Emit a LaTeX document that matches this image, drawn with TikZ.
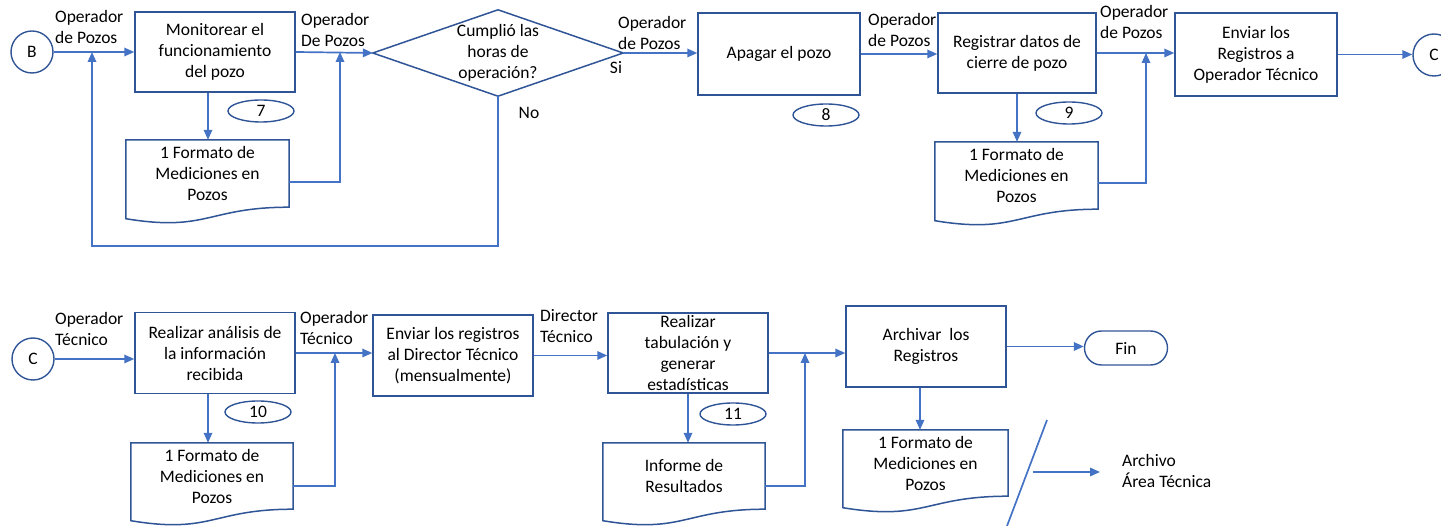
\documentclass[tikz,border=0pt]{standalone}
\usepackage{fontspec}
\setmainfont{Carlito}
\usetikzlibrary{arrows.meta,shapes.geometric,shapes.misc}
\definecolor{edge}{HTML}{2F5597}
\definecolor{flow}{HTML}{4472C4}
\begin{document}
\begin{tikzpicture}[x=1pt,y=-1pt,
  every node/.style={font=\fontsize{17.5}{21}\selectfont, inner sep=0pt},
  stepbox/.style={draw=edge, line width=1.5pt, align=center},
  docbox/.style={align=center},
  tag/.style={draw=edge, line width=1.4pt, ellipse, minimum width=66pt, minimum height=22pt},
  conn/.style={draw=edge, line width=1.4pt, circle, minimum size=42pt},
  lbl/.style={align=left, anchor=west},
  flowline/.style={draw=flow, line width=1.7pt},
  arr/.style={flowline, -{Triangle[length=10pt,width=8.5pt]}},
  docshape/.style={draw=edge, line width=1.5pt, fill=white}
]
\useasboundingbox (0,0) rectangle (1441,526);

% ---- upper row ----
\node[conn] (B) at (32,52) {B};
\node[stepbox, minimum width=160pt, minimum height=80pt] (mon) at (215,52) {Monitorear el\\funcionamiento\\del pozo};
\node[minimum width=250pt, minimum height=86pt, align=center] (dec) at (498,53) {Cumplió las\\horas de\\operación?};
\draw[edge, line width=1.5pt] (dec.west) -- (dec.north) -- (dec.east) -- (dec.south) -- cycle;
\node[stepbox, minimum width=162pt, minimum height=82pt] (apa) at (779,54) {Apagar el pozo};
\node[stepbox, minimum width=158pt, minimum height=80pt] (reg) at (1017,53) {Registrar datos de\\cierre de pozo};
\node[stepbox, minimum width=162pt, minimum height=83pt] (env) at (1256,54.5) {Enviar los\\Registros a\\Operador Técnico};
\node[conn] (C1) at (1434,55) {C};

\node[tag] (t7) at (261,111) {7};
\node[tag] (t8) at (826,115) {8};
\node[tag] (t9) at (1069,113) {9};

\node[docbox, minimum width=163pt, minimum height=67pt] (d1) at (207.5,173.5) {};
\node[docbox, minimum width=163pt, minimum height=67pt] (d2) at (1016.5,175.5) {};

% ---- lower row ----
\node[conn] (C2) at (33,359) {C};
\node[stepbox, minimum width=160pt, minimum height=81pt] (ana) at (215,353) {Realizar análisis de\\la información\\recibida};
\node[stepbox, minimum width=160pt, minimum height=81pt] (dir) at (453,355.5) {Enviar los registros\\al Director Técnico\\(mensualmente)};
\node[stepbox, minimum width=160pt, minimum height=80pt] (tab) at (688,353) {Realizar\\tabulación y\\generar\\estadísticas};
\node[stepbox, minimum width=160pt, minimum height=81pt] (arc) at (926,346.5) {Archivar\ \ los\\Registros};
\node[draw=edge, line width=1.4pt, rounded rectangle, minimum width=83pt, minimum height=34pt] (fin) at (1126,348) {Fin};

\node[tag] (t10) at (258,412) {10};
\node[tag] (t11) at (733,414) {11};

\node[docbox, minimum width=162pt, minimum height=66pt] (d3) at (212,476) {};
\node[docbox, minimum width=162pt, minimum height=66pt] (d4) at (684,476) {};
\node[docbox, minimum width=165pt, minimum height=66pt] (d5) at (925.5,463) {};

% document outlines with a wavy lower edge, then their texts
\foreach \d in {d1,d2,d3,d4,d5}{
  \draw[docshape] (\d.north west) -- (\d.north east) -- (\d.south east)
    .. controls (\d.south) and ([yshift=-25pt]\d.south) .. ([yshift=-11.5pt]\d.south west) -- cycle;
}
\node[docbox] (d1t) at (d1) {1 Formato de\\Mediciones en\\Pozos};
\node[docbox] (d2t) at (d2) {1 Formato de\\Mediciones en\\Pozos};
\node[docbox] (d3t) at (d3) {1 Formato de\\Mediciones en\\Pozos};
\node[docbox] (d4t) at (d4) {Informe de\\Resultados};
\node[docbox] (d5t) at (d5) {1 Formato de\\Mediciones en\\Pozos};

% ---- labels ----
\node[lbl] (l1) at (55,27) {Operador\\de Pozos};
\node[lbl] (l2) at (301,30) {Operador\\De Pozos};
\node[lbl] (l3) at (618,32.5) {Operador\\de Pozos};
\node (si) at (616,68) {Si};
\node (no) at (529,113) {No};
\node[lbl] (l4) at (868,30) {Operador\\de Pozos};
\node[lbl] (l5) at (1100,22) {Operador\\de Pozos};
\node[lbl] (l6) at (55,329) {Operador\\Técnico};
\node[lbl] (l7) at (300,328) {Operador\\Técnico};
\node[lbl] (l8) at (540,326.5) {Director\\Técnico};
\node[lbl] (arch) at (1122,470.5) {Archivo\\Área Técnica};

% ---- junction points ----
\coordinate (j0) at (92,246);
\coordinate (j1) at (92,52);
\coordinate (j2) at (340,52);
\coordinate (j3) at (1146,53);
\coordinate (j4) at (335,353);
\coordinate (j5) at (805,353);
\coordinate (s1) at (1033,472);

% ---- connectors ----
\draw[arr] (B) -- (mon);
\draw[arr] (mon.east) -- (dec.west);
\draw[arr] (dec.south) |- (j0) -- (j1);
\draw[arr] ([xshift=-7pt]mon.south) -- ([xshift=-7pt]mon.south |- d1.north);
\draw[arr] ([yshift=-8.5pt]d1.east) -| (j2);
\draw[arr] (dec.east) -- (dec.east -| apa.west);
\draw[arr] (apa.east) -- (apa.east -| reg.west);
\draw[arr] (reg.south) -- (reg.south |- d2.north);
\draw[arr] ([yshift=-7.5pt]d2.east) -| (j3);
\draw[arr] (reg.east) -- (reg.east -| env.west);
\draw[arr] (env.east) -- (env.east -| C1.west);

\draw[arr] (C2.east) -- (C2.east -| ana.west);
\draw[arr] ([xshift=-7pt]ana.south) -- ([xshift=-7pt]ana.south |- d3.north);
\draw[arr] ([yshift=-10pt]d3.east) -| (j4);
\draw[arr] (ana.east) -- (ana.east -| dir.west);
\draw[arr] (dir.east) -- (dir.east -| tab.west);
\draw[arr] (tab.south) -- (tab.south |- d4.north);
\draw[arr] ([yshift=-10pt]d4.east) -| (j5);
\draw[arr] (tab.east) -- (tab.east -| arc.west);
\draw[arr] ([xshift=-6pt]arc.south) -- ([xshift=-6pt]arc.south |- d5.north);
\draw[arr] (arc.east) -- (arc.east -| fin.west);
\draw[flowline] (1047,420) -- (1007,526);
\draw[arr] (s1) -- ([xshift=-22pt]arch.west |- s1);
\end{tikzpicture}
\end{document}
